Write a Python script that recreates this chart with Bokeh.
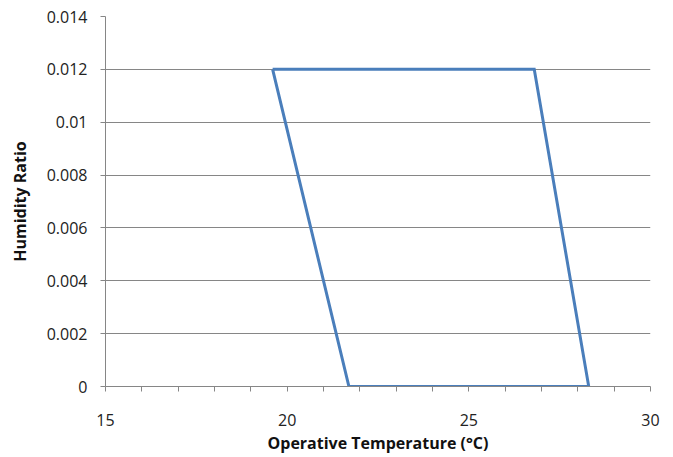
from bokeh.plotting import figure
from bokeh.models import Range1d, FixedTicker
from bokeh.embed import file_html
from bokeh.resources import INLINE

# Comfort zone polygon (operative temperature vs humidity ratio)
temp = [19.6, 26.8, 28.3, 21.7, 19.6]
humidity = [0.012, 0.012, 0.0, 0.0, 0.012]

x_ticks = list(range(15, 31))
x_labels = {t: (str(t) if t % 5 == 0 else "") for t in x_ticks}
y_ticks = [0, 0.002, 0.004, 0.006, 0.008, 0.01, 0.012, 0.014]
y_labels = ["0", "0.002", "0.004", "0.006", "0.008", "0.01", "0.012", "0.014"]

p = figure(width=673, height=457, output_backend="svg", toolbar_location=None,
           x_range=Range1d(15, 30), y_range=Range1d(0, 0.014),
           min_border_left=105, min_border_right=23, min_border_top=16, min_border_bottom=71)
p.outline_line_color = None
p.background_fill_color = "white"

p.line(temp, humidity, line_color="#4a7ebb", line_width=3, line_join="miter")

font = "Open Sans"
for ax in (p.xaxis[0], p.yaxis[0]):
    ax.axis_line_color = "#868686"
    ax.major_tick_line_color = "#868686"
    ax.minor_tick_line_color = None
    ax.major_tick_in = 0
    ax.major_tick_out = 5
    ax.major_label_text_font = font
    ax.major_label_text_font_size = "16px"
    ax.major_label_text_color = "#222222"
    ax.axis_label_text_font = font
    ax.axis_label_text_font_style = "bold"
    ax.axis_label_text_font_size = "16px"
    ax.axis_label_text_color = "#111111"

p.xaxis.ticker = FixedTicker(ticks=x_ticks)
p.xaxis.major_label_overrides = x_labels
p.xaxis.major_label_standoff = 22
p.xaxis.axis_label = "Operative Temperature (°C)"
p.xaxis.axis_label_standoff = 3

p.yaxis.ticker = FixedTicker(ticks=y_ticks)
p.yaxis.major_label_overrides = {t: l for t, l in zip(y_ticks, y_labels)}
p.yaxis.major_label_standoff = 13
p.yaxis.axis_label = "Humidity Ratio"
p.yaxis.axis_label_standoff = 13

p.xgrid.grid_line_color = None
p.ygrid.grid_line_color = "#868686"
p.ygrid.grid_line_width = 1
p.ygrid.ticker = FixedTicker(ticks=y_ticks)

open("out.html", "w").write(file_html(p, INLINE))
